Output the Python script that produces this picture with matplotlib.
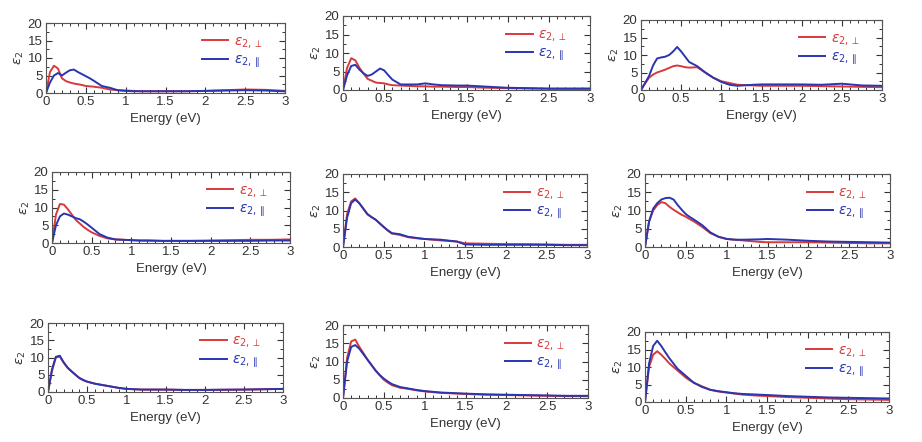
import matplotlib
matplotlib.use("Agg")
import matplotlib.pyplot as plt
from matplotlib.ticker import MultipleLocator

plt.rcParams["font.family"] = ["Liberation Sans", "DejaVu Sans"]

# common energy grid (eV)
energy = [0, 0.05, 0.1, 0.15, 0.2, 0.25, 0.3, 0.35, 0.4, 0.45, 0.5, 0.55, 0.6, 0.7,
          0.8, 0.9, 1.0, 1.1, 1.2, 1.4, 1.5, 1.75, 2.0, 2.25, 2.5, 2.75, 3.0]

# eps2 perpendicular / parallel, one pair per panel (row by row)
perp_a = [0, 6.0, 7.8, 7.0, 4.2, 3.4, 3.0, 2.7, 2.5, 2.3, 2.0, 1.9, 1.8, 1.5, 1.0, 0.8, 0.7, 0.6, 0.5, 0.5, 0.5, 0.5, 0.6, 0.8, 1.0, 0.9, 0.6]
par_a = [0, 3.0, 5.0, 5.7, 5.0, 5.8, 6.5, 6.7, 6.0, 5.4, 4.8, 4.2, 3.5, 2.0, 1.5, 0.8, 0.6, 0.5, 0.5, 0.5, 0.5, 0.5, 0.6, 0.7, 0.8, 0.7, 0.5]
perp_b = [0, 6.0, 8.6, 8.0, 6.0, 4.4, 3.0, 2.5, 2.0, 1.9, 1.8, 1.5, 1.3, 1.2, 1.1, 1.0, 1.0, 0.9, 0.9, 0.8, 0.8, 0.6, 0.5, 0.4, 0.3, 0.3, 0.3]
par_b = [0, 4.0, 6.5, 6.8, 5.5, 4.5, 3.8, 4.2, 5.0, 5.8, 5.3, 4.0, 2.8, 1.5, 1.5, 1.5, 1.8, 1.5, 1.3, 1.2, 1.2, 0.9, 0.6, 0.5, 0.4, 0.4, 0.4]
perp_c = [0, 1.8, 3.5, 4.4, 5.0, 5.4, 5.8, 6.3, 6.8, 7.0, 6.8, 6.5, 6.4, 6.5, 5.0, 3.5, 2.5, 2.0, 1.5, 1.3, 1.2, 1.2, 1.2, 1.1, 1.0, 0.9, 0.8]
par_c = [0, 2.0, 4.0, 7.0, 9.0, 9.3, 9.5, 10.0, 11.0, 12.3, 11.0, 9.5, 8.0, 6.8, 5.0, 3.5, 2.3, 1.5, 1.2, 1.5, 1.6, 1.6, 1.6, 1.5, 1.8, 1.3, 1.2]
perp_d = [0, 8.0, 11.0, 10.8, 9.5, 8.0, 6.5, 5.5, 4.5, 3.7, 3.0, 2.5, 2.0, 1.3, 1.0, 0.9, 0.8, 0.7, 0.7, 0.6, 0.6, 0.6, 0.7, 0.8, 0.9, 0.9, 1.0]
par_d = [0, 5.0, 7.5, 8.3, 8.0, 7.5, 7.0, 6.7, 6.0, 5.2, 4.3, 3.4, 2.5, 1.5, 1.0, 0.9, 0.8, 0.7, 0.7, 0.6, 0.6, 0.6, 0.6, 0.6, 0.6, 0.7, 0.7]
perp_e = [0, 9.0, 12.5, 13.3, 12.0, 10.5, 9.0, 8.2, 7.5, 6.5, 5.5, 4.5, 3.7, 3.3, 2.7, 2.4, 2.2, 2.0, 1.8, 1.5, 1.0, 0.9, 0.8, 0.8, 0.7, 0.6, 0.6]
par_e = [0, 8.0, 12.0, 13.0, 12.0, 10.5, 9.0, 8.2, 7.5, 6.5, 5.5, 4.6, 3.8, 3.5, 2.8, 2.5, 2.2, 2.1, 2.0, 1.5, 0.7, 0.6, 0.6, 0.6, 0.6, 0.5, 0.5]
perp_f = [0, 7.0, 10.0, 11.5, 12.3, 12.0, 11.0, 10.2, 9.5, 8.8, 8.3, 7.6, 7.0, 5.5, 3.8, 2.8, 2.2, 2.0, 1.8, 1.4, 1.3, 1.3, 1.3, 1.2, 1.1, 1.0, 1.0]
par_f = [0, 7.0, 10.5, 12.0, 13.0, 13.4, 13.5, 13.0, 11.5, 10.2, 9.0, 8.2, 7.5, 6.0, 4.0, 2.8, 2.2, 2.0, 2.0, 2.1, 2.2, 2.0, 1.7, 1.5, 1.4, 1.3, 1.2]
perp_g = [0, 6.0, 10.0, 10.3, 8.5, 7.0, 6.0, 5.0, 4.0, 3.4, 3.0, 2.7, 2.4, 2.0, 1.6, 1.2, 0.9, 0.8, 0.7, 0.7, 0.7, 0.6, 0.6, 0.6, 0.7, 0.8, 0.9]
par_g = [0, 6.5, 10.2, 10.5, 8.6, 7.1, 6.0, 5.0, 4.1, 3.5, 3.0, 2.7, 2.4, 2.0, 1.6, 1.2, 0.9, 0.8, 0.7, 0.7, 0.7, 0.6, 0.6, 0.7, 0.7, 0.8, 0.9]
perp_h = [0, 11.0, 15.5, 16.0, 14.0, 12.3, 10.5, 9.0, 7.5, 6.2, 5.0, 4.2, 3.5, 2.8, 2.5, 2.1, 1.8, 1.6, 1.4, 1.2, 1.1, 0.9, 0.8, 0.7, 0.6, 0.5, 0.5]
par_h = [0, 10.0, 14.0, 14.5, 13.5, 12.0, 10.5, 9.0, 7.5, 6.3, 5.3, 4.5, 3.8, 3.0, 2.6, 2.2, 1.9, 1.7, 1.5, 1.3, 1.2, 1.0, 0.9, 0.8, 0.7, 0.6, 0.6]
perp_i = [0, 10.0, 13.5, 14.5, 13.5, 12.3, 11.0, 10.0, 9.0, 8.0, 7.0, 6.2, 5.5, 4.5, 3.5, 3.0, 2.7, 2.4, 2.1, 1.8, 1.7, 1.4, 1.2, 1.0, 0.8, 0.7, 0.6]
par_i = [0, 11.0, 16.0, 17.5, 16.0, 14.2, 12.5, 11.0, 9.5, 8.5, 7.5, 6.5, 5.5, 4.3, 3.5, 3.1, 2.8, 2.5, 2.3, 2.1, 2.0, 1.7, 1.5, 1.3, 1.2, 1.1, 1.0]

panels = [(perp_a, par_a), (perp_b, par_b), (perp_c, par_c),
          (perp_d, par_d), (perp_e, par_e), (perp_f, par_f),
          (perp_g, par_g), (perp_h, par_h), (perp_i, par_i)]

# axes boxes in pixels: left, top, right, bottom
W, H = 922, 442
boxes = [(46, 23, 285, 93), (343, 16, 590, 90), (641, 20, 882, 90),
         (52, 172, 290, 243), (343, 174, 587, 247), (645, 174, 890, 247),
         (48, 323, 283, 392), (343, 325, 588, 398), (645, 332, 889, 402)]

red = "#d83a3a"
blue = "#2a35b0"
txt = "#333333"

fig = plt.figure(figsize=(W / 100, H / 100), dpi=100)

for (perp, par), (l, t, r, b) in zip(panels, boxes):
    ax = fig.add_axes([l / W, 1 - b / H, (r - l) / W, (b - t) / H])
    ax.plot(energy, perp, color=red, lw=1.4, label=r"$\epsilon_{2,\perp}$")
    ax.plot(energy, par, color=blue, lw=1.4, label=r"$\epsilon_{2,\parallel}$")
    ax.set_xlim(0, 3)
    ax.set_ylim(0, 20)
    ax.xaxis.set_minor_locator(MultipleLocator(0.1))
    ax.yaxis.set_major_locator(MultipleLocator(5))
    ax.yaxis.set_minor_locator(MultipleLocator(2.5))
    ax.set_xticks([0, 0.5, 1, 1.5, 2, 2.5, 3])
    ax.set_xticklabels(["0", "0.5", "1", "1.5", "2", "2.5", "3"])
    ax.tick_params(which="both", direction="in", top=True, right=True,
                   labelsize=9.5, colors=txt, pad=2.5)
    ax.tick_params(which="major", length=4, width=0.8)
    ax.tick_params(which="minor", length=2.2, width=0.7)
    for s in ax.spines.values():
        s.set_linewidth(0.8)
        s.set_color("#555555")
    ax.set_xlabel("Energy (eV)", fontsize=9.5, color=txt, labelpad=3)
    ax.set_ylabel(r"$\epsilon_2$", fontsize=9.5, color=txt, labelpad=1)
    ax.legend(loc="upper right", frameon=False, fontsize=10, labelcolor="linecolor",
              handlelength=1.9, handletextpad=0.4, labelspacing=0.15,
              borderaxespad=0.2, borderpad=0.2,
              bbox_to_anchor=(0.93, 0.92))

fig.savefig("out.png", dpi=100)
